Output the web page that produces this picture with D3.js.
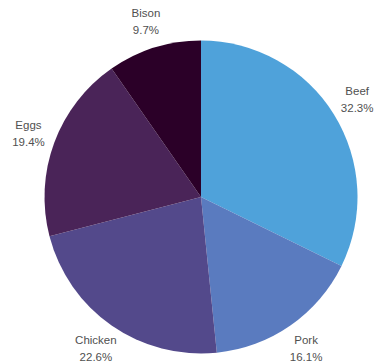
<!DOCTYPE html>
<html>
<head>
<meta charset="utf-8">
<script src="https://cdn.jsdelivr.net/npm/d3@7"></script>
<style>
  html, body { margin: 0; padding: 0; background: #fff; }
  svg { display: block; }
  text { font-family: "Liberation Sans", Arial, sans-serif; }
</style>
</head>
<body>
<svg id="chart" width="375" height="363"></svg>
<script>
// Protein sources (counts) and slice colours
const categories = ["Beef", "Pork", "Chicken", "Eggs", "Bison"];
const counts = [10, 5, 7, 6, 3];
const colors = ["#4fa2da", "#5a7bbf", "#53498b", "#4a2458", "#2b0028"];

const width = 375, height = 363;
const cx = 201, cy = 197;
const radius = 156.5;
const labelRadius = 184;

const total = d3.sum(counts);
const data = categories.map((c, i) => ({ name: c, value: counts[i], color: colors[i] }));

const pie = d3.pie().value(d => d.value).sort(null);
const arcs = pie(data);
const arc = d3.arc().innerRadius(0).outerRadius(radius);
const labelArc = d3.arc().innerRadius(labelRadius).outerRadius(labelRadius);

const svg = d3.select("#chart");
const g = svg.append("g").attr("transform", `translate(${cx},${cy})`);

g.selectAll("path.slice")
  .data(arcs)
  .join("path")
  .attr("class", "slice")
  .attr("d", arc)
  .attr("fill", d => d.data.color);

const labels = g.selectAll("g.label")
  .data(arcs)
  .join("g")
  .attr("class", "label")
  .attr("transform", d => `translate(${labelArc.centroid(d)})`);

labels.append("text")
  .attr("text-anchor", "middle")
  .attr("y", -4.5)
  .attr("font-size", 11.5)
  .attr("fill", "#505050")
  .text(d => d.data.name);

labels.append("text")
  .attr("text-anchor", "middle")
  .attr("y", 12.5)
  .attr("font-size", 11.5)
  .attr("fill", "#505050")
  .text(d => (d.data.value / total * 100).toFixed(1) + "%");
</script>
</body>
</html>
